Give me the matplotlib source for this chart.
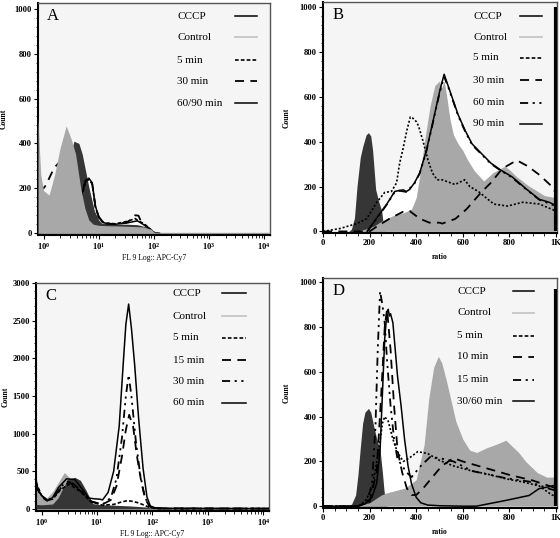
import numpy as np
import matplotlib
matplotlib.use('Agg')
import matplotlib.pyplot as plt
from matplotlib.ticker import FixedLocator, FixedFormatter, AutoMinorLocator, NullFormatter

plt.rcParams['font.family'] = ['Liberation Serif', 'DejaVu Serif']
plt.rcParams['mathtext.fontset'] = 'custom'
plt.rcParams['mathtext.rm'] = 'Liberation Serif:bold'
plt.rcParams['mathtext.it'] = 'Liberation Serif:bold'
plt.rcParams['mathtext.bf'] = 'Liberation Serif:bold'

# ------------------------------------------------------------------ data
# Panel A : x given as log10(FL9 intensity)
A_cccp_lx = [-0.1, 0.3, 0.45, 0.52, 0.55, 0.64, 0.70, 0.82, 0.92, 1.0, 1.05, 1.3, 1.5, 1.7, 1.9, 2.0, 2.1, 4.1]
A_cccp_y = [0, 50, 250, 380, 410, 400, 353, 206, 100, 59, 45, 40, 40, 38, 25, 8, 3, 3]
A_ctrl_lx = [-0.1, -0.08, -0.05, 0.0, 0.1, 0.2, 0.3, 0.41, 0.5, 0.58, 0.67, 0.75, 0.82, 0.9, 1.0, 1.2, 1.4, 1.6, 1.8, 1.95, 2.0, 2.1, 4.1]
A_ctrl_y = [520, 400, 260, 190, 170, 260, 380, 478, 420, 353, 206, 110, 59, 40, 35, 33, 32, 30, 28, 18, 5, 4, 4]
A_5_lx = [-0.1, 0.0, 0.1, 0.3, 0.45, 0.6, 0.7, 0.76, 0.82, 0.88, 0.94, 1.0, 1.1, 1.3, 1.5, 1.6, 1.66, 1.72, 1.8, 1.9, 2.0]
A_5_y = [150, 140, 150, 250, 330, 200, 170, 230, 240, 220, 115, 70, 45, 42, 52, 60, 65, 55, 45, 25, 3]
A_30_lx = [-0.1, 0.0, 0.04, 0.19, 0.3, 0.45, 0.6, 0.7, 0.76, 0.82, 0.88, 0.94, 1.0, 1.1, 1.3, 1.5, 1.6, 1.66, 1.72, 1.78, 1.85, 1.95, 2.0]
A_30_y = [200, 200, 213, 290, 320, 340, 200, 180, 232, 243, 222, 118, 72, 45, 40, 48, 62, 80, 78, 45, 35, 12, 3]
A_6090_lx = [-0.1, 0.3, 0.6, 0.7, 0.76, 0.82, 0.88, 0.94, 1.0, 1.06, 1.15, 1.3, 1.5, 1.7, 1.8, 1.95, 2.0, 2.1]
A_6090_y = [0, 20, 100, 180, 235, 245, 225, 120, 74, 50, 42, 40, 45, 55, 40, 15, 3, 0]

# Panel B : ratio
B_cccp_x = [0, 110, 122, 135, 146, 160, 171, 185, 195, 205, 213, 226, 240, 252, 260, 270, 1000]
B_cccp_y = [0, 0, 10, 60, 200, 330, 380, 430, 440, 425, 361, 187, 130, 91, 20, 0, 0]
B_ctrl_x = [0, 140, 180, 220, 250, 300, 350, 380, 400, 420, 440, 460, 480, 500, 510, 520, 530, 545, 560, 580, 600, 620, 650, 690, 730, 780, 800, 830, 880, 950, 1000]
B_ctrl_y = [0, 0, 10, 25, 45, 70, 85, 100, 150, 280, 430, 560, 650, 670, 640, 670, 610, 500, 430, 390, 361, 320, 270, 225, 262, 290, 275, 245, 205, 160, 150]
B_5_x = [0, 73, 145, 188, 231, 265, 294, 316, 329, 342, 360, 375, 385, 400, 410, 430, 450, 470, 490, 512, 567, 608, 630, 667, 733, 792, 858, 929, 1000]
B_5_y = [0, 13, 35, 57, 130, 174, 178, 217, 304, 361, 450, 510, 505, 490, 470, 400, 320, 260, 230, 230, 209, 230, 200, 178, 122, 113, 130, 122, 91]
B_30_x = [0, 200, 231, 286, 342, 372, 415, 457, 500, 512, 568, 617, 679, 721, 770, 832, 880, 929, 983, 1000]
B_30_y = [0, 0, 22, 57, 87, 91, 57, 39, 39, 35, 56, 100, 174, 217, 280, 317, 290, 252, 200, 170]
B_60_x = [190, 243, 274, 308, 329, 358, 393, 415, 444, 470, 500, 520, 540, 560, 580, 610, 640, 667, 721, 762, 812, 875, 929, 1000]
B_60_y = [0, 75, 120, 176, 181, 176, 214, 258, 358, 476, 615, 690, 636, 576, 516, 446, 386, 358, 301, 272, 240, 185, 141, 113]
B_90_x = [190, 243, 274, 308, 329, 345, 358, 372, 393, 415, 444, 470, 500, 520, 540, 560, 580, 610, 640, 667, 721, 762, 812, 875, 929, 971, 1000]
B_90_y = [0, 78, 122, 178, 183, 185, 178, 187, 217, 260, 361, 480, 620, 700, 640, 580, 520, 450, 390, 361, 304, 274, 243, 187, 143, 130, 115]
B_overflow = 1000

# Panel C : x given as log10(FL9 intensity)
C_cccp_lx = [-0.1, 0.0, 0.1, 0.2, 0.3, 0.4, 0.5, 0.6, 0.7, 0.8, 0.92, 1.0, 1.3, 1.6, 1.9, 2.0, 2.1, 4.1]
C_cccp_y = [60, 55, 60, 66, 150, 300, 400, 420, 380, 250, 70, 60, 50, 40, 25, 10, 5, 5]
C_ctrl_lx = [-0.1, -0.07, -0.04, 0.0, 0.1, 0.2, 0.3, 0.41, 0.5, 0.6, 0.7, 0.8, 0.9, 1.0, 1.2, 1.5, 1.8, 2.0, 2.1, 4.1]
C_ctrl_y = [450, 300, 220, 170, 150, 230, 350, 484, 420, 380, 300, 190, 90, 50, 40, 30, 20, 8, 5, 5]
C_5_lx = [-0.1, 0.0, 0.1, 0.2, 0.35, 0.5, 0.7, 0.9, 1.1, 1.3, 1.45, 1.55, 1.65, 1.75, 1.85, 1.95, 2.05, 4.1]
C_5_y = [350, 180, 120, 130, 260, 330, 230, 90, 50, 60, 95, 110, 100, 80, 50, 20, 5, 5]
C_15_lx = [-0.1, 0.0, 0.1, 0.2, 0.35, 0.5, 0.7, 0.9, 1.1, 1.25, 1.35, 1.45, 1.52, 1.58, 1.65, 1.72, 1.8, 1.87, 1.95, 2.05, 4.1]
C_15_y = [320, 160, 110, 140, 280, 360, 240, 95, 60, 120, 300, 700, 1050, 1250, 1100, 700, 350, 130, 30, 8, 5]
C_30_lx = [-0.1, 0.0, 0.1, 0.2, 0.35, 0.5, 0.7, 0.9, 1.1, 1.25, 1.35, 1.45, 1.52, 1.57, 1.62, 1.7, 1.78, 1.85, 1.92, 2.0, 2.2, 4.1]
C_30_y = [300, 170, 130, 140, 300, 380, 250, 100, 60, 150, 400, 950, 1500, 1780, 1500, 900, 450, 200, 60, 15, 5, 5]
C_60_lx = [-0.1, -0.06, 0.0, 0.1, 0.2, 0.3, 0.45, 0.6, 0.75, 0.85, 0.95, 1.05, 1.1, 1.2, 1.3, 1.4, 1.47, 1.52, 1.57, 1.62, 1.68, 1.75, 1.83, 1.9, 1.96, 2.05, 2.2, 4.1]
C_60_y = [380, 250, 180, 110, 150, 280, 400, 390, 250, 145, 135, 130, 120, 220, 500, 1100, 1900, 2450, 2720, 2400, 1900, 1200, 540, 160, 40, 15, 8, 5]

# Panel D : ratio
D_cccp_x = [0, 110, 123, 140, 150, 160, 170, 180, 195, 205, 215, 230, 245, 255, 262, 268, 275, 1000]
D_cccp_y = [0, 0, 10, 50, 140, 260, 370, 420, 437, 420, 370, 303, 250, 150, 70, 20, 0, 0]
D_ctrl_x = [0, 140, 200, 250, 272, 352, 400, 434, 454, 475, 495, 510, 530, 550, 570, 600, 630, 660, 700, 740, 785, 810, 840, 870, 920, 960, 1000]
D_ctrl_y = [0, 0, 15, 50, 59, 81, 118, 274, 481, 620, 670, 640, 560, 470, 380, 300, 250, 240, 260, 275, 295, 270, 240, 200, 150, 130, 130]
D_5_x = [0, 150, 180, 210, 240, 255, 265, 280, 300, 320, 345, 370, 407, 450, 500, 560, 641, 700, 786, 850, 927, 983, 1000]
D_5_y = [0, 0, 20, 80, 250, 370, 400, 380, 300, 240, 200, 215, 244, 235, 205, 180, 157, 145, 122, 110, 91, 50, 45]
D_10_x = [0, 150, 200, 230, 250, 265, 275, 290, 305, 320, 340, 360, 380, 400, 430, 470, 510, 560, 600, 700, 800, 900, 970, 1000]
D_10_y = [0, 0, 20, 150, 500, 800, 880, 700, 450, 250, 150, 80, 50, 50, 80, 130, 180, 215, 200, 170, 140, 115, 91, 80]
D_15_x = [0, 150, 190, 210, 225, 235, 245, 255, 265, 275, 290, 305, 320, 340, 360, 380, 420, 460, 500, 560, 641, 786, 885, 970, 1000]
D_15_y = [0, 0, 20, 100, 350, 700, 960, 900, 820, 650, 450, 300, 210, 180, 150, 130, 180, 220, 215, 200, 157, 125, 110, 78, 70]
D_3060_x = [0, 150, 180, 210, 230, 245, 255, 265, 275, 280, 285, 290, 300, 310, 320, 335, 350, 365, 380, 400, 420, 450, 500, 600, 658, 786, 885, 927, 970, 1000]
D_3060_y = [0, 0, 10, 40, 100, 250, 500, 750, 870, 880, 850, 860, 820, 700, 580, 450, 300, 180, 100, 40, 15, 5, 2, 0, 0, 26, 48, 78, 87, 95]
D_overflow = 970

# ------------------------------------------------------------------ styles
BG = '#f5f5f5'
DARK = '#363636'
GRAY = '#a8a8a8'
S_SOLID = dict(color='black', lw=1.1, ls='-')
S_CTRL = dict(color='#c6c6c6', lw=1.3, ls='-')
S_5 = dict(color='black', lw=1.2, ls=(0, (2.2, 1.3)))
S_30 = dict(color='black', lw=1.3, ls=(0, (5, 3.5)))
S_60 = dict(color='black', lw=1.3, ls=(0, (4.5, 2.5, 1.2, 2.5, 1.2, 2.5)))
TICK_FS = 6.2

fig = plt.figure(figsize=(5.6, 5.38), dpi=100)
axA = fig.add_axes([0.0679, 0.5632, 0.414, 0.431])
axB = fig.add_axes([0.5768, 0.5669, 0.418, 0.4294])
axC = fig.add_axes([0.0643, 0.0502, 0.416, 0.4238])
axD = fig.add_axes([0.5768, 0.0558, 0.418, 0.4275])


def style_axes(ax):
    ax.set_facecolor(BG)
    for s in ['top', 'right']:
        ax.spines[s].set_color('#555555')
        ax.spines[s].set_linewidth(1.0)
    for s in ['left', 'bottom']:
        ax.spines[s].set_color('black')
        ax.spines[s].set_linewidth(1.5)
    ax.tick_params(which='major', direction='out', length=3, width=0.8, pad=1.5)
    ax.tick_params(which='minor', direction='out', length=1.8, width=0.6)
    ax.tick_params(top=False, right=False, which='both')
    for lab in ax.get_xticklabels() + ax.get_yticklabels():
        lab.set_fontsize(TICK_FS)
        lab.set_fontweight('bold')


def ylabel(ax, pad):
    ax.set_ylabel('Count', fontsize=5.5, fontweight='bold', labelpad=pad)


def log_xaxis(ax):
    ax.set_xscale('log')
    ax.set_xlim(10 ** -0.1, 10 ** 4.1)
    ax.xaxis.set_major_locator(FixedLocator([1, 10, 100, 1000, 10000]))
    ax.xaxis.set_major_formatter(FixedFormatter([r'$\mathregular{10^{0}}$', r'$\mathregular{10^{1}}$',
                                                 r'$\mathregular{10^{2}}$', r'$\mathregular{10^{3}}$',
                                                 r'$\mathregular{10^{4}}$']))
    minors = [m * 10 ** d for d in range(0, 4) for m in range(2, 10)]
    ax.xaxis.set_minor_locator(FixedLocator(minors))
    ax.xaxis.set_minor_formatter(NullFormatter())
    ax.set_xlabel('FL 9 Log:: APC-Cy7', fontsize=5.5, labelpad=1)


def lin_xaxis(ax):
    ax.set_xlim(0, 1005)
    ax.xaxis.set_major_locator(FixedLocator([0, 200, 400, 600, 800, 1000]))
    ax.xaxis.set_major_formatter(FixedFormatter(['0', '200', '400', '600', '800', '1K']))
    ax.xaxis.set_minor_locator(AutoMinorLocator(4))
    ax.set_xlabel('ratio', fontsize=5.5, fontweight='bold', labelpad=4)


def legend(ax, labels, styles, tx, hx0, hx1, ys):
    for lab, st, y in zip(labels, styles, ys):
        ax.text(tx, y, lab, transform=ax.transAxes, fontsize=8, va='center', ha='left', zorder=20)
        ax.plot([hx0, hx1], [y, y], transform=ax.transAxes, zorder=20, **st)


def letter(ax, s):
    ax.text(0.04, 0.945, s, transform=ax.transAxes, fontsize=12, va='center', ha='left', zorder=20)


def L(v):
    return np.power(10.0, v)

# ------------------------------------------------------------------ panel A
ax = axA
ax.fill_between(L(A_6090_lx), A_6090_y, 0, color='white', lw=0, zorder=1)
ax.fill_between(L(A_cccp_lx), A_cccp_y, 0, color=DARK, lw=0, zorder=2)
ax.plot(L(A_5_lx), A_5_y, zorder=3, **S_5)
ax.plot(L(A_30_lx), A_30_y, zorder=3, **S_30)
ax.plot(L(A_6090_lx), A_6090_y, zorder=3, **S_SOLID)
ax.fill_between(L(A_ctrl_lx), A_ctrl_y, 0, color=GRAY, lw=0, zorder=4)
log_xaxis(ax)
ax.set_ylim(-8, 1025)
ax.yaxis.set_major_locator(FixedLocator([0, 200, 400, 600, 800, 1000]))
ax.yaxis.set_minor_locator(AutoMinorLocator(5))
ylabel(ax, 5)
legend(ax, ['CCCP', 'Control', '5 min', '30 min', '60/90 min'],
       [S_SOLID, S_CTRL, S_5, S_30, S_SOLID],
       0.60, 0.85, 0.944, [0.944, 0.853, 0.754, 0.664, 0.569])
letter(ax, 'A')
style_axes(ax)

# ------------------------------------------------------------------ panel B
ax = axB
ax.fill_between(B_90_x, B_90_y, 0, color='white', lw=0, zorder=1)
ax.fill_between(B_cccp_x, B_cccp_y, 0, color=DARK, lw=0, zorder=2)
ax.fill_between(B_ctrl_x, B_ctrl_y, 0, color=GRAY, lw=0, zorder=3)
ax.plot(B_5_x, B_5_y, zorder=5, **dict(S_5, ls=(0, (1.2, 1.2))))
ax.plot(B_30_x, B_30_y, zorder=5, **S_30)
ax.plot(B_60_x, B_60_y, zorder=5, **S_60)
ax.plot(B_90_x, B_90_y, zorder=6, **S_SOLID)
ax.vlines([1000], 0, B_overflow, color='black', lw=3, zorder=7)
lin_xaxis(ax)
ax.set_ylim(-7, 1022)
ax.yaxis.set_major_locator(FixedLocator([0, 200, 400, 600, 800, 1000]))
ax.yaxis.set_minor_locator(AutoMinorLocator(5))
ylabel(ax, 6)
legend(ax, ['CCCP', 'Control', '5 min', '30 min', '60 min', '90 min'],
       [S_SOLID, S_CTRL, S_5, S_30, S_60, S_SOLID],
       0.641, 0.842, 0.936, [0.939, 0.848, 0.758, 0.662, 0.563, 0.472])
letter(ax, 'B')
style_axes(ax)

# ------------------------------------------------------------------ panel C
ax = axC
ax.fill_between(L(C_60_lx), C_60_y, 0, color='white', lw=0, zorder=1)
ax.fill_between(L(C_ctrl_lx), C_ctrl_y, 0, color=GRAY, lw=0, zorder=2)
ax.fill_between(L(C_cccp_lx), C_cccp_y, 0, color=DARK, lw=0, zorder=3)
ax.plot(L(C_5_lx), C_5_y, zorder=5, **S_5)
ax.plot(L(C_15_lx), C_15_y, zorder=5, **S_30)
ax.plot(L(C_30_lx), C_30_y, zorder=5, **S_60)
ax.plot(L(C_60_lx), C_60_y, zorder=6, **S_SOLID)
log_xaxis(ax)
ax.set_ylim(-27, 3000)
ax.yaxis.set_major_locator(FixedLocator([0, 500, 1000, 1500, 2000, 2500, 3000]))
ax.yaxis.set_minor_locator(AutoMinorLocator(5))
ylabel(ax, 2)
legend(ax, ['CCCP', 'Control', '5 min', '15 min', '30 min', '60 min'],
       [S_SOLID, S_CTRL, S_5, S_30, S_60, S_SOLID],
       0.588, 0.80, 0.90, [0.956, 0.855, 0.759, 0.662, 0.57, 0.474])
letter(ax, 'C')
style_axes(ax)

# ------------------------------------------------------------------ panel D
ax = axD
ax.fill_between(D_3060_x, D_3060_y, 0, color='white', lw=0, zorder=1)
ax.fill_between(D_cccp_x, D_cccp_y, 0, color=DARK, lw=0, zorder=2)
ax.fill_between(D_ctrl_x, D_ctrl_y, 0, color=GRAY, lw=0, zorder=3)
ax.plot(D_5_x, D_5_y, zorder=5, **dict(S_5, ls=(0, (1.2, 1.2))))
ax.plot(D_10_x, D_10_y, zorder=5, **S_30)
ax.plot(D_15_x, D_15_y, zorder=5, **S_60)
ax.plot(D_3060_x, D_3060_y, zorder=6, **S_SOLID)
ax.vlines([1000], 0, D_overflow, color='black', lw=3, zorder=7)
lin_xaxis(ax)
ax.set_ylim(-8, 1020)
ax.yaxis.set_major_locator(FixedLocator([0, 200, 400, 600, 800, 1000]))
ax.yaxis.set_minor_locator(AutoMinorLocator(5))
ylabel(ax, 6)
legend(ax, ['CCCP', 'Control', '5 min', '10 min', '15 min', '30/60 min'],
       [S_SOLID, S_CTRL, S_5, S_30, S_60, S_SOLID],
       0.573, 0.81, 0.90, [0.943, 0.848, 0.748, 0.657, 0.557, 0.465])
letter(ax, 'D')
style_axes(ax)

fig.savefig('out.png', dpi=100)
